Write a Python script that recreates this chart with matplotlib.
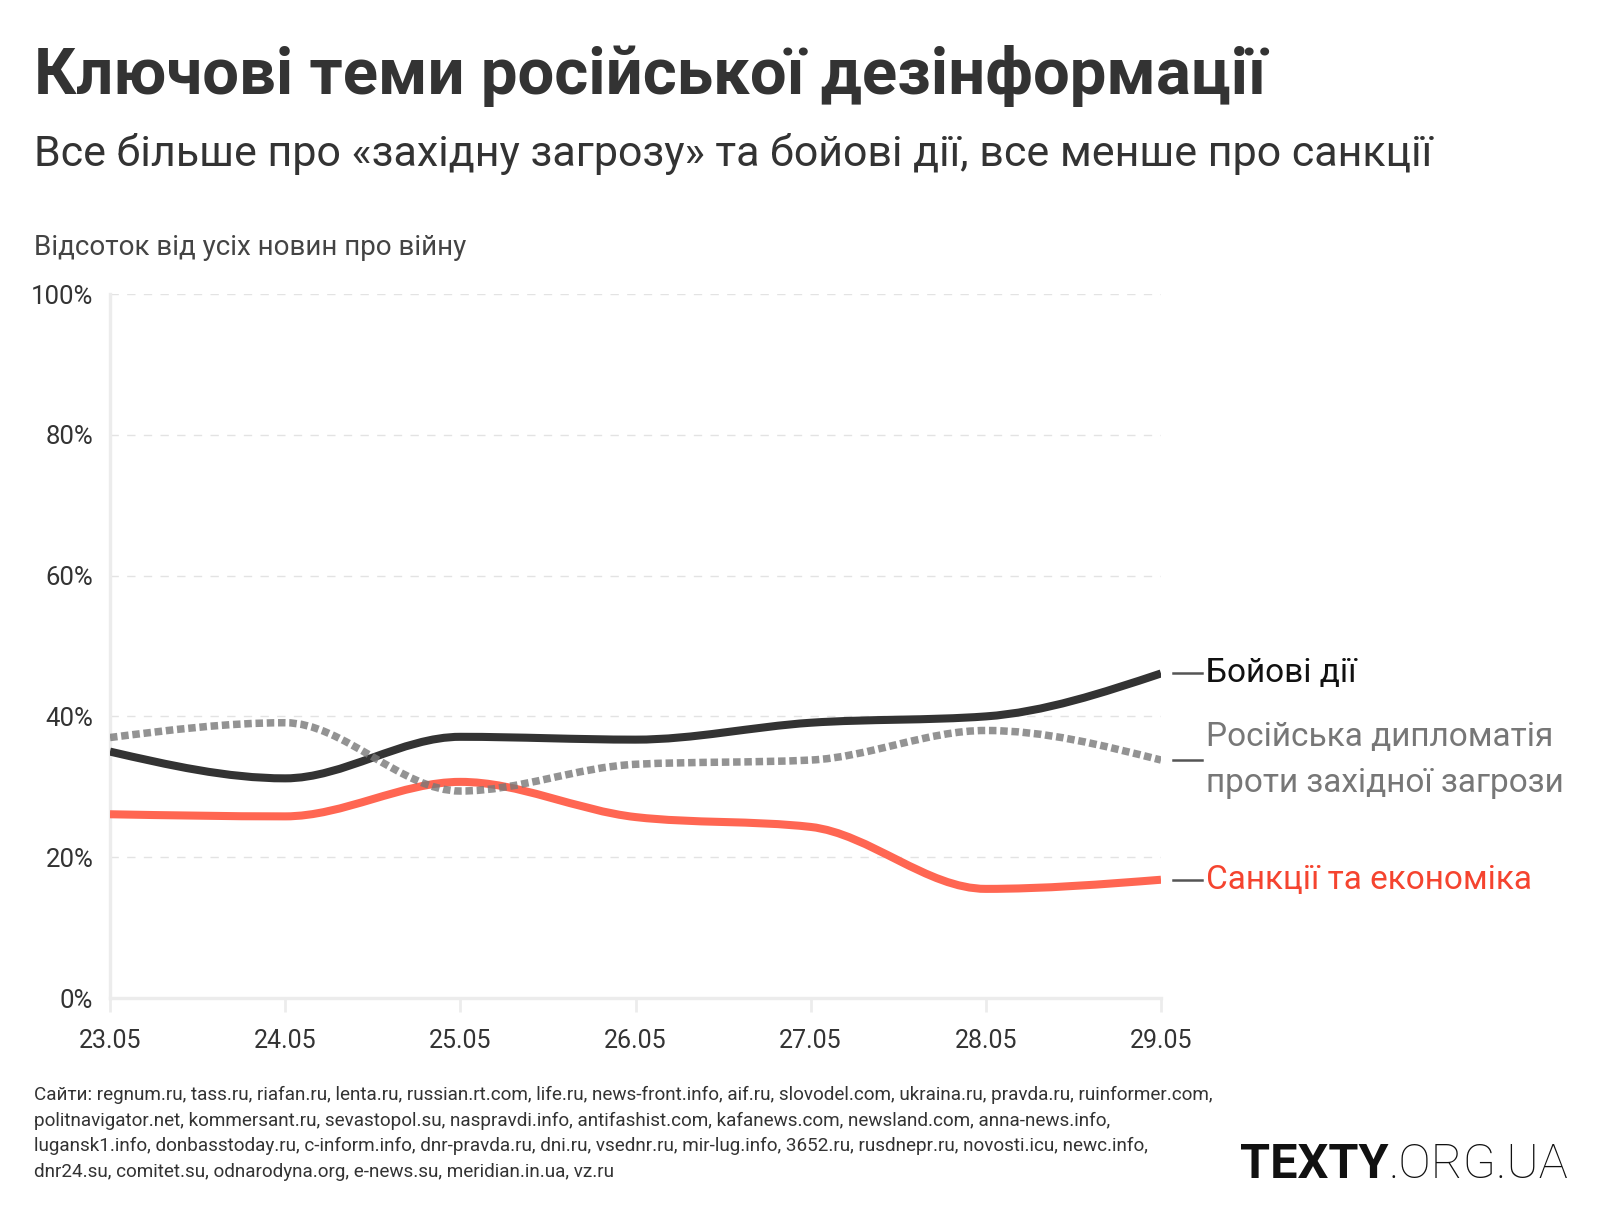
import numpy as np
import matplotlib.pyplot as plt
from matplotlib.path import Path
from matplotlib.patches import PathPatch
from matplotlib.transforms import blended_transform_factory

plt.rcParams['font.family'] = ['Roboto', 'DejaVu Sans']

# Data (% of all war news)
dates = ['23.05', '24.05', '25.05', '26.05', '27.05', '28.05', '29.05']
combat = [35.0, 31.2, 37.1, 36.7, 39.1, 40.0, 46.1]
diplomacy = [37.0, 39.1, 29.4, 33.2, 33.8, 38.0, 33.8]
sanctions = [26.1, 25.8, 30.7, 25.7, 24.3, 15.5, 16.8]
yticks = [0, 20, 40, 60, 80, 100]

title = 'Ключові теми російської дезінформації'
subtitle = 'Все більше про «західну загрозу» та бойові дії, все менше про санкції'
ylabel = 'Відсоток від усіх новин про війну'
footer = ['Сайти: regnum.ru, tass.ru, riafan.ru, lenta.ru, russian.rt.com, life.ru, news-front.info, aif.ru, slovodel.com, ukraina.ru, pravda.ru, ruinformer.com,',
          'politnavigator.net, kommersant.ru, sevastopol.su, naspravdi.info, antifashist.com, kafanews.com, newsland.com, anna-news.info,',
          'lugansk1.info, donbasstoday.ru, c-inform.info, dnr-pravda.ru, dni.ru, vsednr.ru, mir-lug.info, 3652.ru, rusdnepr.ru, novosti.icu, newc.info,',
          'dnr24.su, comitet.su, odnarodyna.org, e-news.su, meridian.in.ua, vz.ru']

W, H = 1600, 1220


def monotone_path(x, y):
    # same curve as d3.curveMonotoneX, as cubic bezier segments
    x = np.asarray(x, float)
    y = np.asarray(y, float)
    n = len(x)
    t = np.zeros(n)
    for i in range(1, n - 1):
        h0, h1 = x[i] - x[i - 1], x[i + 1] - x[i]
        s0, s1 = (y[i] - y[i - 1]) / h0, (y[i + 1] - y[i]) / h1
        p = (s0 * h1 + s1 * h0) / (h0 + h1)
        t[i] = (np.sign(s0 or 1) + np.sign(s1 or 1)) * min(abs(s0), abs(s1), 0.5 * abs(p))
    t[0] = (3 * (y[1] - y[0]) / (x[1] - x[0]) - t[1]) / 2
    t[-1] = (3 * (y[-1] - y[-2]) / (x[-1] - x[-2]) - t[-2]) / 2
    verts = [(x[0], y[0])]
    codes = [Path.MOVETO]
    for i in range(n - 1):
        dx = (x[i + 1] - x[i]) / 3
        verts += [(x[i] + dx, y[i] + dx * t[i]),
                  (x[i + 1] - dx, y[i + 1] - dx * t[i + 1]),
                  (x[i + 1], y[i + 1])]
        codes += [Path.CURVE4] * 3
    return Path(verts, codes)


fig = plt.figure(figsize=(16, 12.2), dpi=100)
ax = fig.add_axes([110 / W, 1 - 998 / H, 1051 / W, 704 / H])

xs = np.arange(len(dates))
ax.set_xlim(0, len(dates) - 1)
ax.set_ylim(0, 100)

for v in yticks[1:]:
    ax.axhline(v, color='#e3e3e3', lw=1, ls=(0, (6, 6)), zorder=1)

ax.add_patch(PathPatch(monotone_path(xs, sanctions), fill=False, edgecolor='#ff6652',
                       lw=5.8, capstyle='butt', joinstyle='round', zorder=3))
ax.add_patch(PathPatch(monotone_path(xs, combat), fill=False, edgecolor='#333333',
                       lw=5.8, capstyle='butt', joinstyle='round', zorder=4))
ax.add_patch(PathPatch(monotone_path(xs, diplomacy), fill=False, edgecolor='#787878', alpha=0.8,
                       lw=5.4, ls=(0, (1, 0.5)), capstyle='butt', zorder=5))

for s in ['top', 'right']:
    ax.spines[s].set_visible(False)
for s in ['left', 'bottom']:
    ax.spines[s].set_color('#ececec')
    ax.spines[s].set_linewidth(2.4)

ax.set_xticks(xs)
ax.set_xticklabels(dates)
ax.set_yticks(yticks)
ax.set_yticklabels([f'{v}%' for v in yticks])
ax.tick_params(axis='x', length=10, width=2, color='#ececec', pad=12,
               labelsize=18, labelcolor='#333333')
ax.tick_params(axis='y', length=0, pad=12, labelsize=18.5, labelcolor='#333333')

# end labels
tr = blended_transform_factory(ax.transAxes, ax.transData)
labels = [(combat[-1], 'Бойові дії', '#111111'),
          (diplomacy[-1], 'Російська дипломатія\nпроти західної загрози', '#777777'),
          (sanctions[-1], 'Санкції та економіка', '#f5442f')]
for yv, txt, col in labels:
    ax.plot([1.0114, 1.039], [yv, yv], color='#555555', lw=1.8, transform=tr, clip_on=False)
    ax.text(1.043, yv, txt, transform=tr, color=col, fontsize=24, va='center',
            ha='left', linespacing=1.58)

fig.text(34 / W, 1 - 94 / H, title, fontsize=47, fontweight='bold', color='#333333', va='baseline')
fig.text(34 / W, 1 - 166 / H, subtitle, fontsize=31, color='#333333', va='baseline')
fig.text(34 / W, 1 - 255 / H, ylabel, fontsize=20, color='#444444', va='baseline')

for i, line in enumerate(footer):
    fig.text(34 / W, 1 - (1100 + i * 25.7) / H, line, fontsize=13.6, color='#333333', va='baseline')

t1 = fig.text(1240 / W, 1 - 1178 / H, 'TEXTY', fontsize=35, fontweight='bold', color='#111111', va='baseline')
fig.canvas.draw()
bb = t1.get_window_extent()
fig.text(bb.x1 / W, 1 - 1178 / H, '.ORG.UA', fontsize=35, fontweight='light', color='#111111', va='baseline')

fig.savefig('out.png', dpi=100)
